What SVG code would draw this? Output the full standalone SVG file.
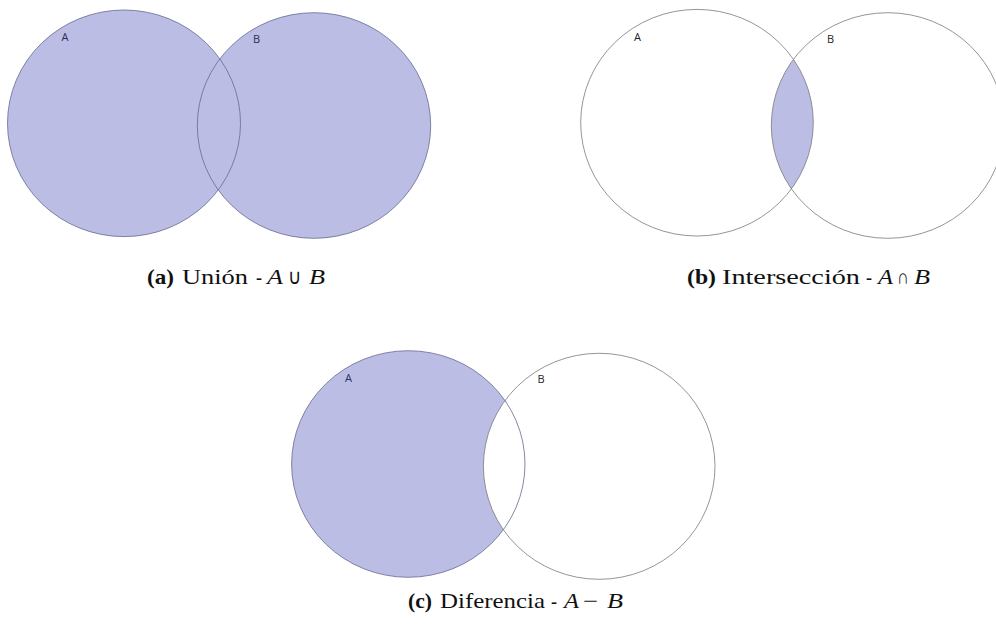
<svg xmlns="http://www.w3.org/2000/svg" width="996" height="632" viewBox="0 0 996 632">
  <style>
    .fill { fill: #BBBDE4; stroke: none; }
    .ring { fill: none; stroke: #7a7a7a; stroke-width: 0.8; }
    .ringf { fill: none; stroke: #666990; stroke-width: 0.8; }
    .lbl { font-family: "Open Sans", "DejaVu Sans", sans-serif; font-size: 11px; fill: #1e1e1e; }
    .lblf { font-family: "Open Sans", "DejaVu Sans", sans-serif; font-size: 11px; fill: #2b2e5e; }
    .cap { font-family: "Liberation Serif", serif; font-size: 21px; fill: #111; }
    .b { font-weight: bold; }
    .i { font-style: italic; }
  </style>
  <defs>
    <clipPath id="clipBA">
      <ellipse cx="697" cy="122.7" rx="116.3" ry="113.3"/>
    </clipPath>
    <mask id="maskCB" maskUnits="userSpaceOnUse" x="0" y="300" width="996" height="332">
      <rect x="0" y="300" width="996" height="332" fill="#fff"/>
      <ellipse cx="599.2" cy="466.3" rx="115.8" ry="113" fill="#000"/>
    </mask>
  </defs>
  <rect width="996" height="632" fill="#fff"/>

  <!-- (a) Union -->
  <g id="union">
    <g id="a-fill">
      <ellipse class="fill" cx="124" cy="123.3" rx="116.5" ry="113.3"/>
      <ellipse class="fill" cx="314" cy="125.5" rx="116.7" ry="112.8"/>
    </g>
    <g id="a-A">
      <ellipse class="ringf" cx="124" cy="123.3" rx="116.5" ry="113.3"/>
      <text class="lblf" x="61.5" y="41">A</text>
    </g>
    <g id="a-B">
      <ellipse class="ringf" cx="314" cy="125.5" rx="116.7" ry="112.8"/>
      <text class="lblf" x="253" y="43">B</text>
    </g>
    <g id="a-caption" class="cap">
      <text class="b" x="147" y="284" textLength="27" lengthAdjust="spacingAndGlyphs">(a)</text>
      <text x="182" y="284" textLength="66" lengthAdjust="spacingAndGlyphs">Unión</text>
      <text x="256" y="284" textLength="6" lengthAdjust="spacingAndGlyphs">-</text>
      <text class="i" x="267" y="284" textLength="16" lengthAdjust="spacingAndGlyphs">A</text>
      <text x="288" y="284" textLength="13" lengthAdjust="spacingAndGlyphs">∪</text>
      <text class="i" x="309" y="284" textLength="16" lengthAdjust="spacingAndGlyphs">B</text>
    </g>
  </g>

  <!-- (b) Intersection -->
  <g id="intersection">
    <g id="b-fill">
      <ellipse class="fill" cx="887.8" cy="125.5" rx="116.5" ry="112.8" clip-path="url(#clipBA)"/>
    </g>
    <g id="b-A">
      <ellipse class="ring" cx="697" cy="122.7" rx="116.3" ry="113.3"/>
      <text class="lbl" x="634" y="41">A</text>
    </g>
    <g id="b-B">
      <ellipse class="ring" cx="887.8" cy="125.5" rx="116.5" ry="112.8"/>
      <text class="lbl" x="827" y="43">B</text>
    </g>
    <g id="b-caption" class="cap">
      <text class="b" x="687" y="284" textLength="29" lengthAdjust="spacingAndGlyphs">(b)</text>
      <text x="722" y="284" textLength="138" lengthAdjust="spacingAndGlyphs">Intersección</text>
      <text x="866" y="284" textLength="6" lengthAdjust="spacingAndGlyphs">-</text>
      <text class="i" x="878" y="284" textLength="15" lengthAdjust="spacingAndGlyphs">A</text>
      <text x="897" y="284" textLength="12" lengthAdjust="spacingAndGlyphs">∩</text>
      <text class="i" x="914" y="284" textLength="16" lengthAdjust="spacingAndGlyphs">B</text>
    </g>
  </g>

  <!-- (c) Difference -->
  <g id="difference">
    <g id="c-fill">
      <ellipse class="fill" cx="408.3" cy="464" rx="116.7" ry="113.3" mask="url(#maskCB)"/>
    </g>
    <g id="c-A">
      <ellipse class="ringf" cx="408.3" cy="464" rx="116.7" ry="113.3"/>
      <text class="lblf" x="345" y="382">A</text>
    </g>
    <g id="c-B">
      <ellipse class="ring" cx="599.2" cy="466.3" rx="115.8" ry="113"/>
      <text class="lbl" x="537.5" y="383">B</text>
    </g>
    <g id="c-caption" class="cap">
      <text class="b" x="408" y="608" textLength="24" lengthAdjust="spacingAndGlyphs">(c)</text>
      <text x="440" y="608" textLength="105" lengthAdjust="spacingAndGlyphs">Diferencia</text>
      <text x="551" y="608" textLength="6" lengthAdjust="spacingAndGlyphs">-</text>
      <text class="i" x="564" y="608" textLength="15" lengthAdjust="spacingAndGlyphs">A</text>
      <text x="583" y="608" textLength="15" lengthAdjust="spacingAndGlyphs">−</text>
      <text class="i" x="607" y="608" textLength="16" lengthAdjust="spacingAndGlyphs">B</text>
    </g>
  </g>
</svg>
